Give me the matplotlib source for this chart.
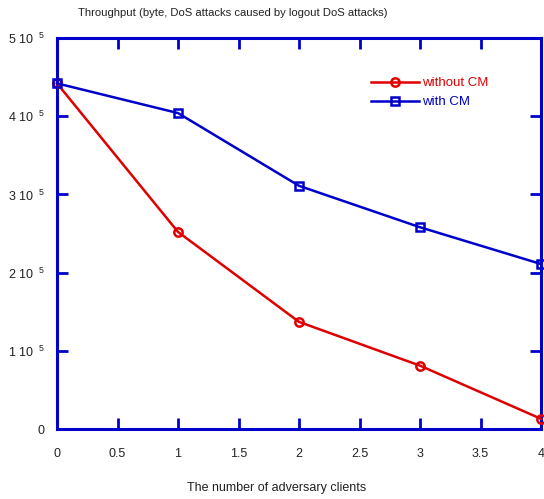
import matplotlib
matplotlib.use("Agg")
import matplotlib.pyplot as plt
from matplotlib.ticker import FuncFormatter

plt.rcParams['font.family'] = ['Liberation Sans', 'DejaVu Sans']
plt.rcParams['mathtext.fontset'] = 'custom'
plt.rcParams['mathtext.rm'] = 'Liberation Sans'

clients = [0, 1, 2, 3, 4]
without_cm = [4.42e5, 2.52e5, 1.37e5, 0.81e5, 0.13e5]
with_cm = [4.42e5, 4.04e5, 3.11e5, 2.58e5, 2.11e5]
x_ticks = [0, 0.5, 1, 1.5, 2, 2.5, 3, 3.5, 4]
y_ticks = [0, 1e5, 2e5, 3e5, 4e5, 5e5]

fig = plt.figure(figsize=(5.44, 4.99), dpi=100)
ax = fig.add_axes([57/544, 1-429/499, (541-57)/544, (429-38)/499])

ax.plot(clients, without_cm, color='#e00000', lw=1.8, marker='o', ms=6, mfc='none',
        mew=1.8, label='without CM', clip_on=False, zorder=3)
ax.plot(clients, with_cm, color='#0000cc', lw=1.8, marker='s', ms=6, mfc='none',
        mew=1.8, label='with CM', clip_on=False, zorder=3)

ax.set_xlim(0, 4)
ax.set_ylim(0, 5e5)
ax.set_xticks(x_ticks)
ax.set_yticks(y_ticks)
ax.xaxis.set_major_formatter(FuncFormatter(lambda v, p: ('%g' % v)))
def yfmt(v, p):
    if v == 0:
        return '0'
    return r'%d 10$^{\ \ \mathregular{5}}$' % round(v / 1e5)
ax.yaxis.set_major_formatter(FuncFormatter(yfmt))

for s in ax.spines.values():
    s.set_color('#0000cc')
    s.set_linewidth(2.2)
ax.tick_params(direction='in', length=8, width=2, color='#0000cc', top=True, right=True,
               labelsize=9, labelcolor='#222222')
ax.tick_params(axis='x', pad=14)
ax.tick_params(axis='y', pad=9)

leg = ax.legend(loc='upper right', bbox_to_anchor=(0.915, 0.93), frameon=False, fontsize=9.5,
                labelcolor='linecolor', handlelength=3.6, handletextpad=0.2,
                labelspacing=0.5)

fig.text(78/544, 1-13/499, 'Throughput (byte, DoS attacks caused by logout DoS attacks)',
         ha='left', va='center', fontsize=8.1, color='#222222')
fig.text(277/544, 1-488/499, 'The number of adversary clients',
         ha='center', va='center', fontsize=9, color='#222222')

fig.savefig('out.png', dpi=100)
